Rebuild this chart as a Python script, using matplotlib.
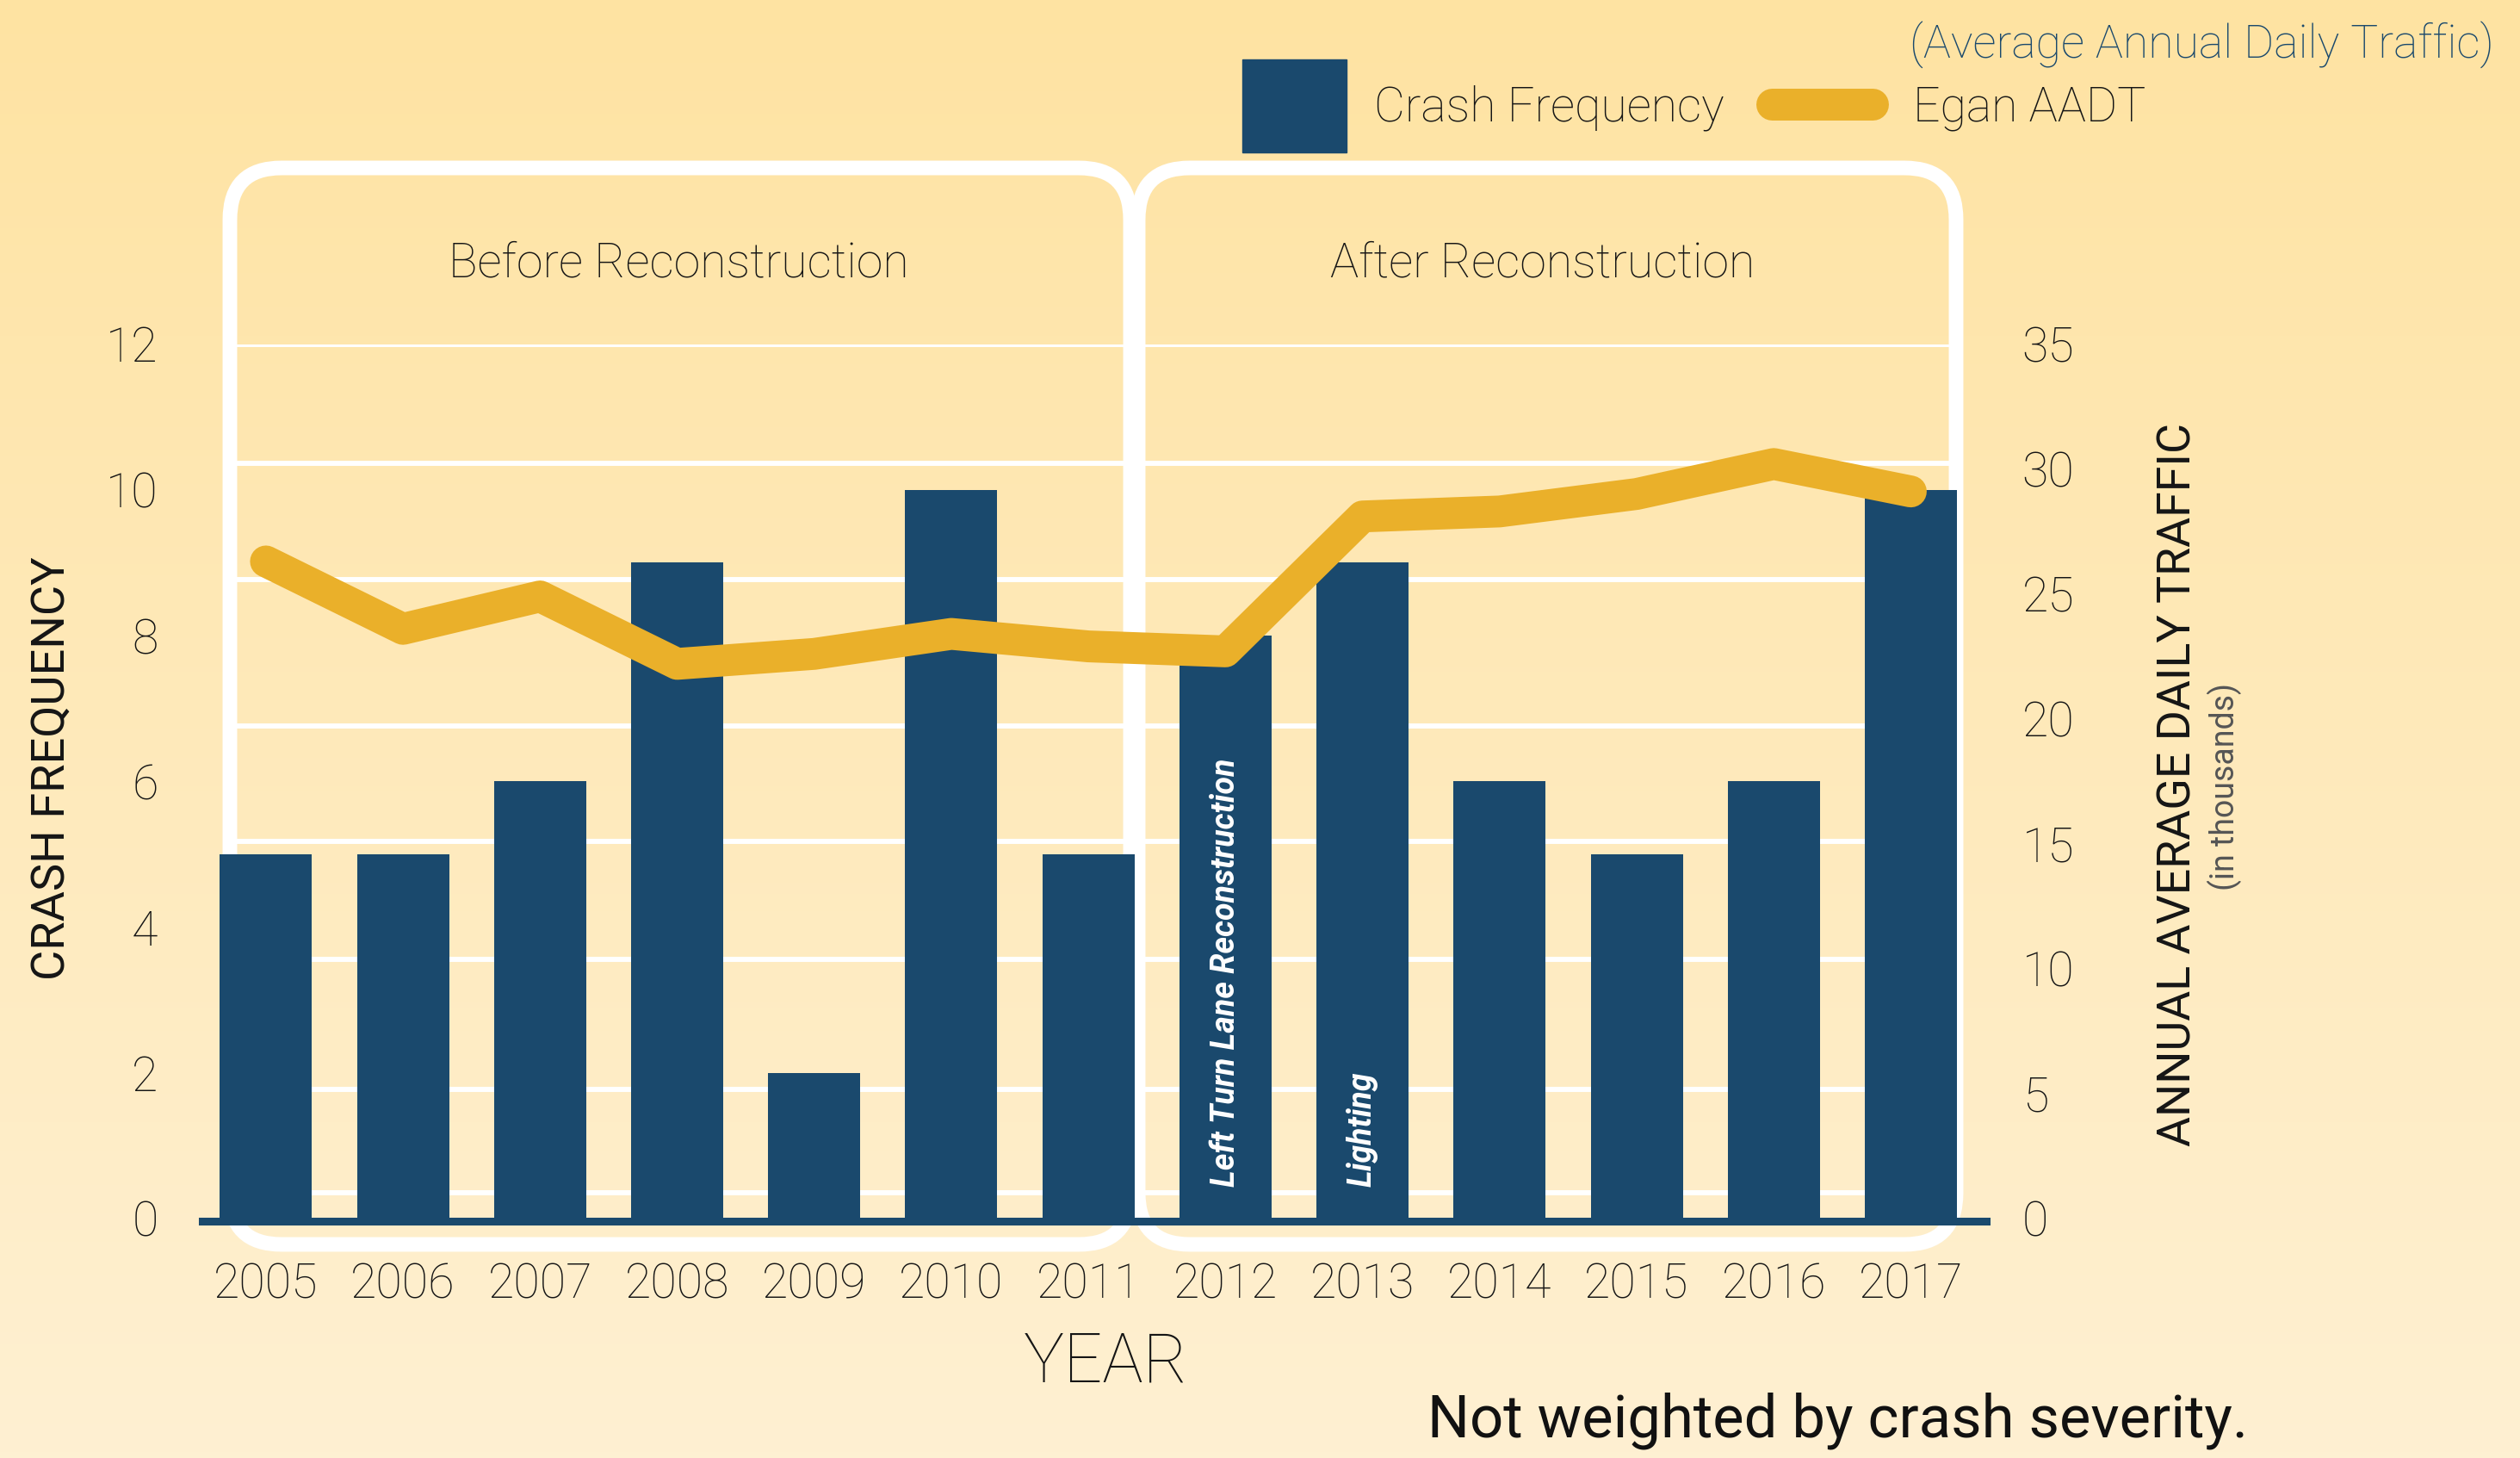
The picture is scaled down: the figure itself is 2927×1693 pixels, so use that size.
import numpy as np
import matplotlib.pyplot as plt
from matplotlib.patches import FancyBboxPatch, Rectangle
from matplotlib.lines import Line2D

plt.rcParams['font.family'] = ['Roboto', 'DejaVu Sans']

# crash counts and Egan Ave AADT (thousands) per year
years = ['2005', '2006', '2007', '2008', '2009', '2010', '2011',
         '2012', '2013', '2014', '2015', '2016', '2017']
crashes = [5, 5, 6, 9, 2, 10, 5, 8, 9, 6, 5, 6, 10]
aadt = [26.3, 23.6, 24.9, 22.2, 22.6, 23.4, 22.9,
        22.7, 28.1, 28.3, 29.0, 30.2, 29.1]

crash_ticks = [0, 2, 4, 6, 8, 10, 12]
aadt_ticks = [0, 5, 10, 15, 20, 25, 30, 35]
grid_levels = [12.0, 10.36, 8.77, 6.76, 5.17, 3.56, 1.77, 0.36]

notes = {'2012': 'Left Turn Lane Reconstruction', '2013': 'Lighting'}
periods = ['Before Reconstruction', 'After Reconstruction']

BLUE = '#1a496d'
GOLD = '#eab02a'
INK = '#151515'
CONDENSED = ['Liberation Sans Narrow', 'Roboto']

W, H = 2927, 1693
fig = plt.figure(figsize=(W / 100, H / 100), dpi=100)

# background layer in pixel units
bg = fig.add_axes([0, 0, 1, 1], zorder=-1)
top = np.array([254, 227, 162]) / 255
bottom = np.array([254, 240, 210]) / 255
t = np.linspace(0, 1, 256)[:, None, None]
bg.imshow(top + (bottom - top) * t, extent=[0, W, H, 0], aspect='auto')
bg.set_xlim(0, W)
bg.set_ylim(H, 0)
bg.axis('off')

# rounded panels for the two periods
for (x0, x1), label, cx in zip([(267, 1313), (1322, 2272)], periods, [788, 1792]):
    bg.add_patch(FancyBboxPatch((x0, 195), x1 - x0, 1445 - 195,
                                boxstyle='round,pad=0,rounding_size=60',
                                fill=False, ec='white', lw=12.2))
    bg.text(cx, 306, label, ha='center', va='center', fontsize=40,
            color=INK, fontweight='light')

# legend
bg.add_patch(Rectangle((1443, 69), 121, 108, color=BLUE))
bg.text(1596, 125, 'Crash Frequency', ha='left', va='center', fontsize=40,
        color=INK, fontweight='light')
bg.add_line(Line2D([2058, 2175], [121, 121], color=GOLD, lw=26.6,
                   solid_capstyle='round'))
bg.text(2222, 125, 'Egan AADT', ha='left', va='center', fontsize=40,
        color=INK, fontweight='light')
bg.text(2218, 52, '(Average Annual Daily Traffic)', ha='left', va='center',
        fontsize=38.6, color=BLUE, fontweight='light')

# axis titles and footnote
bg.text(60, 892, 'CRASH FREQUENCY', rotation=90, ha='center', va='center',
        fontsize=39, color=INK, family=CONDENSED)
bg.text(2530, 911, 'ANNUAL AVERAGE DAILY TRAFFIC', rotation=90, ha='center',
        va='center', fontsize=38.7, color=INK, family=CONDENSED)
bg.text(2584, 913, '(in thousands)', rotation=90, ha='center', va='center',
        fontsize=27, color='#555555', family=CONDENSED)
bg.text(1284, 1583, 'YEAR', ha='center', va='center', fontsize=57,
        color=INK, fontweight='light')
bg.text(1658, 1650, 'Not weighted by crash severity.', ha='left',
        va='center', fontsize=49.5, color='#111111')

# bars on the left scale
ax = fig.add_axes([235 / W, 1 - 1415 / H, 2072 / W, 1015.5 / H])
ax.patch.set_alpha(0)
x = np.arange(len(years))
ax.hlines(grid_levels, -0.264, 12.33, color='white', lw=4.3, zorder=1)
ax.bar(x, crashes, width=0.672, color=BLUE, zorder=3)
ax.axhline(-0.041, color=BLUE, lw=6.5, zorder=4, clip_on=False)
for year, note in notes.items():
    ax.text(years.index(year), 0.44, note, rotation=90, ha='center',
            va='bottom', color='white', fontsize=27, fontweight='bold',
            fontstyle='italic', zorder=6)
ax.set_xlim(-0.464, 12.55)
ax.set_ylim(0, 12)
ax.set_xticks(x, years)
ax.set_yticks(crash_ticks)
ax.tick_params(axis='x', length=0, pad=36, labelsize=40, labelcolor=INK)
ax.tick_params(axis='y', length=0, pad=37, labelsize=40, labelcolor=INK)
for lab in ax.get_xticklabels() + ax.get_yticklabels():
    lab.set_fontweight('light')
for s in ax.spines.values():
    s.set_visible(False)

# traffic line on the right scale
ax2 = ax.twinx()
ax2.patch.set_visible(False)
ax2.plot(x, aadt, color=GOLD, lw=26.6, solid_capstyle='round',
         solid_joinstyle='round', zorder=5)
ax2.set_ylim(0, 35)
ax2.set_yticks(aadt_ticks)
ax2.tick_params(axis='y', length=0, pad=30, labelsize=40, labelcolor=INK)
for lab in ax2.get_yticklabels():
    lab.set_fontweight('light')
for s in ax2.spines.values():
    s.set_visible(False)

fig.savefig('out.png', dpi=100)
